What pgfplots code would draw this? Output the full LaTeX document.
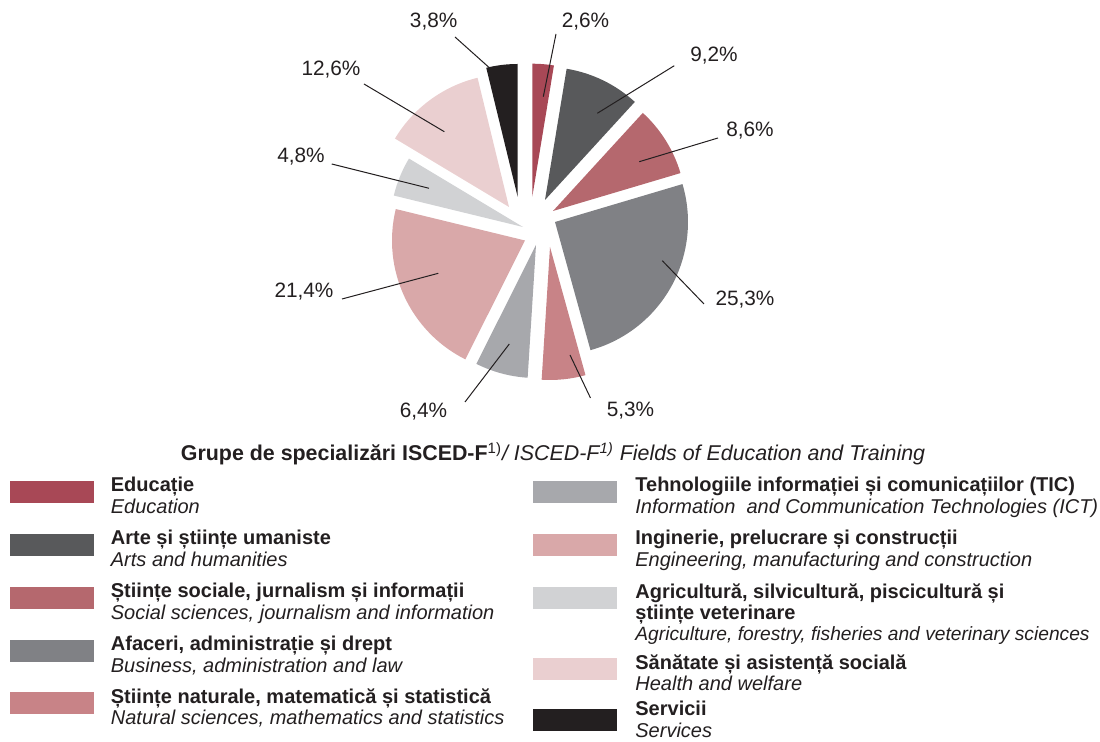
\documentclass[border=0pt]{standalone}
\usepackage{fontspec}
\setmainfont{Liberation Sans}
\usepackage{pgfplots}
\pgfplotsset{compat=1.18}
\definecolor{txt}{RGB}{35,31,32}
\definecolor{cEdu}{RGB}{168,72,86}
\definecolor{cArt}{RGB}{88,89,91}
\definecolor{cSoc}{RGB}{181,104,110}
\definecolor{cAfa}{RGB}{128,129,133}
\definecolor{cNat}{RGB}{200,131,135}
\definecolor{cTic}{RGB}{167,168,172}
\definecolor{cIng}{RGB}{217,168,169}
\definecolor{cAgr}{RGB}{209,210,212}
\definecolor{cSan}{RGB}{234,207,208}
\definecolor{cSer}{RGB}{35,31,32}
% running cumulative share (percent)
\def\cum{0}
\def\R{66.5pt}
% #1 value (%), #2 #3 apex of the (exploded) slice in axis units, #4 colour
\newcommand{\pieslice}[4]{%
  \pgfmathsetmacro\sa{90-3.6*\cum}%
  \pgfmathsetmacro\ea{90-3.6*(\cum+#1)}%
  \pgfmathsetmacro\newcum{\cum+#1}\xdef\cum{\newcum}%
  \edef\tmp{\noexpand\fill[#4] (axis cs:#2,#3) -- ++(\sa:\R) arc[start angle=\sa, end angle=\ea, radius=\R] -- cycle;}%
  \tmp}
\newcommand{\pct}[5]{% label x, y, text, line from, line to
  \node[anchor=base, font=\fontsize{10.4}{12}\selectfont, text=txt, inner sep=0pt] at (axis cs:#1,#2) {#3};
  \draw[txt, line width=0.5pt] (axis cs:#4) -- (axis cs:#5);}
% swatch x, swatch top y, colour, text x, content, text offset above swatch top
\newcommand{\legitem}[6][4]{%
  \fill[#4] (axis cs:#2,#3) rectangle (axis cs:#2+84,#3+22.5);
  \node[anchor=north west, align=left, inner sep=0pt, text=txt,
        font=\fontsize{10}{10.6}\selectfont] at (axis cs:#5,#3-#1) {#6};}
\begin{document}
\begin{tikzpicture}
\useasboundingbox (0,0) rectangle (550pt,371pt);
\begin{axis}[at={(0,0)}, anchor=south west, scale only axis,
  width=550pt, height=371pt, xmin=0, xmax=1100, ymin=0, ymax=742,
  y dir=reverse, hide axis, clip=false]
% slices: share (%), apex x, apex y, colour (clockwise from 12 o'clock)
\pieslice{2.6}{532.3}{196.7}{cEdu}
\pieslice{9.2}{545}{200}{cArt}
\pieslice{8.6}{553}{211}{cSoc}
\pieslice{25.3}{555}{222}{cAfa}
\pieslice{5.3}{550}{247}{cNat}
\pieslice{6.4}{536}{245}{cTic}
\pieslice{21.4}{525}{240.5}{cIng}
\pieslice{4.8}{523}{227}{cAgr}
\pieslice{12.6}{509}{207}{cSan}
\pieslice{3.8}{517.7}{197}{cSer}
% percentage labels with leader lines
\pct{585.5}{27.3}{2,6\%}{556,34}{543.3,96.7}
\pct{714}{62}{9,2\%}{674.3,65.7}{597.3,113.3}
\pct{750}{137}{8,6\%}{718,138}{639.3,161.7}
\pct{745}{306}{25,3\%}{704,304}{662.3,260.7}
\pct{630.5}{417}{5,3\%}{590.5,398}{570,355}
\pct{423.5}{418}{6,4\%}{465,402}{509.3,344}
\pct{304}{298}{21,4\%}{342,299}{438.3,273.3}
\pct{301}{162.3}{4,8\%}{331.7,164}{429,188.3}
\pct{331}{76}{12,6\%}{364,84}{444.3,131.7}
\pct{433.7}{27.3}{3,8\%}{455,37}{489.3,67.7}
% title
\node[anchor=base, inner sep=0pt, text=txt, font=\fontsize{10.7}{12}\selectfont] at (axis cs:553,461)
  {\textbf{Grupe de specializări ISCED-F}\textsuperscript{1)}\textit{/ ISCED-F\textsuperscript{1)} Fields of Education and Training}};
% legend, left column
\legitem{10}{481}{cEdu}{110.5}{\textbf{Educație}\\\textit{Education}}
\legitem{10}{534}{cArt}{110.5}{\textbf{Arte și științe umaniste}\\\textit{Arts and humanities}}
\legitem{10}{587}{cSoc}{110.5}{\textbf{Științe sociale, jurnalism și informații}\\\textit{Social sciences, journalism and information}}
\legitem{10}{640}{cAfa}{110.5}{\textbf{Afaceri, administrație și drept}\\\textit{Business, administration and law}}
\legitem{10}{692}{cNat}{110.5}{\textbf{Științe naturale, matematică și statistică}\\\textit{Natural sciences, mathematics and statistics}}
% legend, right column
\legitem{533}{481}{cTic}{635}{\textbf{Tehnologiile informației și comunicațiilor (TIC)}\\\textit{Information\ \ and Communication Technologies (ICT)}}
\legitem{533}{534}{cIng}{635}{\textbf{Inginerie, prelucrare și construcții}\\\textit{Engineering, manufacturing and construction}}
\legitem{533}{587}{cAgr}{635}{\textbf{Agricultură, silvicultură, piscicultură și}\\\textbf{științe veterinare}\\{\fontsize{9.6}{10.6}\selectfont\textit{Agriculture, forestry, fisheries and veterinary sciences}}}
\legitem{533}{658}{cSan}{635}{\textbf{Sănătate și asistență socială}\\\textit{Health and welfare}}
\legitem[8]{533}{709}{cSer}{635}{\textbf{Servicii}\\\textit{Services}}
\end{axis}
\end{tikzpicture}
\end{document}
